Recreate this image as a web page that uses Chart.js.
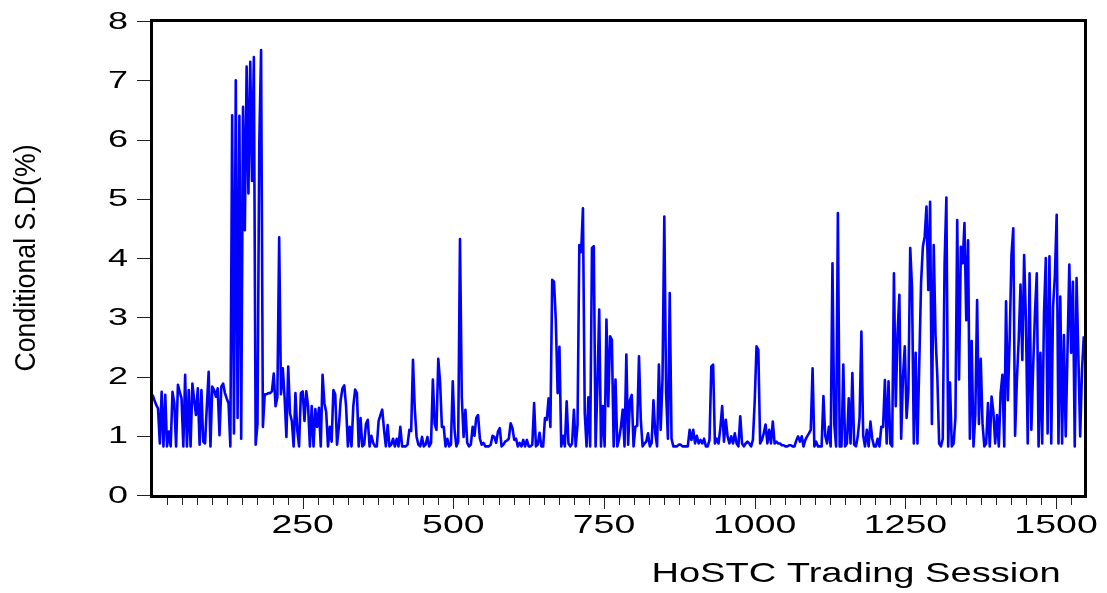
<!DOCTYPE html>
<html>
<head>
<meta charset="utf-8">
<script src="https://cdn.jsdelivr.net/npm/chart.js@4"></script>
<style>
html, body { margin: 0; padding: 0; background: #fff; }
</style>
</head>
<body>
<canvas id="sdChart" width="1107" height="593"></canvas>
<script>
// conditional SD (%), one reading every 3 sessions
var sdValues = [
	1.69, 1.6, 1.52, 1.46, 0.87, 1.74, 0.82, 1.69, 0.82, 1.07,
	0.82, 1.74, 1.55, 0.82, 1.86, 1.74, 1.63, 0.82, 2.03, 0.82,
	1.77, 0.82, 1.88, 1.6, 1.35, 1.8, 0.85, 1.77, 0.9, 0.87,
	1.5, 2.08, 0.82, 1.83, 1.77, 1.66, 1.8, 1.01, 1.83, 1.88,
	1.72, 1.63, 1.55, 0.82, 6.41, 1.04, 7.0, 1.3, 6.4, 0.95,
	6.55, 4.47, 7.23, 5.09, 7.31, 5.3, 7.39, 0.85, 1.2, 5.93,
	7.51, 1.15, 1.7, 1.7, 1.72, 1.72, 1.75, 2.05, 1.5, 1.65,
	4.35, 1.7, 2.14, 1.65, 0.98, 2.17, 1.38, 1.25, 0.82, 1.72,
	1.1, 0.82, 1.72, 1.75, 1.25, 1.75, 1.5, 0.82, 1.5, 0.82,
	1.45, 1.15, 1.47, 0.82, 2.03, 1.55, 1.4, 0.82, 1.15, 0.9,
	1.77, 1.7, 0.85, 1.15, 1.6, 1.8, 1.85, 1.5, 0.82, 1.15,
	0.82, 1.5, 1.78, 1.72, 0.82, 1.3, 0.82, 0.85, 1.2, 1.27,
	0.82, 1.0, 0.88, 0.82, 0.82, 1.25, 1.35, 1.44, 1.1, 0.82,
	1.18, 0.82, 0.85, 0.95, 0.82, 0.95, 0.82, 1.15, 0.82, 0.82,
	0.82, 0.85, 1.1, 1.08, 2.28, 1.45, 0.98, 0.85, 0.82, 0.98,
	0.82, 0.85, 0.98, 0.82, 0.88, 1.95, 1.2, 1.1, 2.3, 1.9,
	1.15, 1.15, 0.82, 0.95, 0.82, 0.85, 1.92, 1.1, 0.82, 0.9,
	4.32, 1.65, 0.98, 1.44, 0.88, 0.82, 0.85, 1.15, 1.0, 1.3,
	1.35, 0.95, 0.85, 0.88, 0.82, 0.82, 0.82, 0.85, 1.0, 0.98,
	0.88, 1.07, 1.13, 0.82, 0.85, 0.9, 0.92, 0.95, 1.21, 1.13,
	0.93, 0.95, 0.82, 0.88, 0.82, 0.93, 0.82, 0.93, 0.82, 0.82,
	0.85, 1.55, 0.82, 0.85, 1.05, 0.82, 0.82, 1.3, 1.27, 1.63,
	1.15, 3.63, 3.6, 2.95, 1.72, 2.5, 0.82, 1.0, 0.82, 1.58,
	0.87, 0.82, 0.87, 1.44, 0.82, 1.18, 4.22, 4.1, 4.84, 1.38,
	0.82, 1.65, 0.82, 4.17, 4.2, 0.82, 1.83, 3.13, 0.82, 1.5,
	0.82, 2.96, 1.5, 2.68, 2.62, 0.82, 1.95, 0.82, 0.95, 1.15,
	1.44, 0.82, 2.37, 0.85, 1.6, 1.69, 0.82, 1.15, 1.17, 2.34,
	1.27, 0.82, 0.87, 0.9, 1.04, 0.82, 0.88, 1.6, 1.04, 0.82,
	2.2, 1.1, 1.95, 4.7, 1.72, 0.95, 3.41, 0.95, 0.82, 0.82,
	0.82, 0.85, 0.85, 0.82, 0.82, 0.82, 0.82, 1.1, 0.93, 1.1,
	0.87, 1.0, 0.87, 0.93, 0.87, 0.95, 0.82, 0.82, 0.93, 2.17,
	2.2, 0.87, 0.95, 0.87, 1.13, 1.5, 0.9, 1.27, 0.99, 0.87,
	0.99, 0.87, 1.04, 0.87, 0.82, 1.33, 0.87, 0.82, 0.87, 0.9,
	0.87, 0.82, 0.93, 1.58, 2.51, 2.45, 0.87, 0.93, 1.04, 1.19,
	0.87, 1.1, 0.87, 1.24, 0.87, 0.9, 0.87, 0.87, 0.84, 0.84,
	0.82, 0.82, 0.84, 0.84, 0.82, 0.82, 0.92, 0.99, 0.9, 0.99,
	0.82, 0.93, 0.99, 1.04, 1.1, 2.14, 0.82, 0.9, 0.82, 0.82,
	0.82, 1.67, 1.0, 0.87, 1.15, 0.82, 3.91, 1.2, 0.82, 4.76,
	0.82, 0.82, 2.2, 0.82, 0.87, 1.63, 0.87, 2.06, 0.85, 0.82,
	0.99, 1.3, 2.76, 1.0, 0.82, 1.1, 0.82, 1.24, 0.95, 0.82,
	0.82, 0.95, 0.82, 1.15, 1.15, 1.94, 0.87, 1.92, 0.87, 0.82,
	3.74, 1.5, 2.73, 3.38, 0.95, 2.0, 2.51, 1.3, 1.77, 4.17,
	3.5, 0.87, 2.4, 0.87, 2.2, 3.58, 4.19, 4.36, 4.87, 3.46,
	4.95, 1.2, 4.22, 2.7, 2.0, 0.87, 0.82, 0.95, 3.9, 5.02,
	0.82, 1.9, 0.82, 0.87, 1.3, 4.64, 1.95, 4.19, 3.91, 4.59,
	2.95, 4.3, 0.95, 2.6, 0.82, 1.35, 3.29, 1.2, 2.3, 1.2,
	0.82, 0.87, 1.55, 0.82, 1.66, 1.4, 0.87, 1.35, 0.82, 1.72,
	2.03, 0.82, 3.27, 1.6, 2.62, 4.05, 4.5, 1.0, 1.94, 2.62,
	3.55, 2.28, 4.05, 2.95, 0.87, 3.74, 1.1, 2.17, 3.07, 3.74,
	0.82, 2.4, 0.87, 3.07, 4.0, 1.04, 4.03, 0.87, 3.18, 3.69,
	4.73, 0.87, 3.35, 0.87, 2.7, 0.99, 2.45, 3.89, 2.4, 3.6,
	0.82, 3.66, 2.34, 0.99, 2.1, 2.68
];
var firstSession = 1;
var sessionStep = 3;
var lastSession = 1548;

var xTicks = [250, 500, 750, 1000, 1250, 1500];
var xMinorStep = 25;
var yTicks = [0, 1, 2, 3, 4, 5, 6, 7, 8];
var xTitle = "HoSTC Trading Session";
var yTitle = "Conditional S.D(%)";

var sessions = sdValues.map(function(v, i) { return firstSession + i * sessionStep; });

function $each(arr, fn) { for (var i = 0; i < arr.length; i++) fn(arr[i], i); }

//글자 가로로 늘려서 그리기
function wideText(ctx, text, x, y, sx, align) {
	ctx.save();
	ctx.translate(x, y);
	ctx.scale(sx, 1);
	ctx.textAlign = align;
	ctx.fillText(text, 0, 0);
	ctx.restore();
}

// EViews style frame, ticks and labels
var evAxes = {
	id: "evAxes",
	afterDraw: function(chart) {
		var ctx = chart.ctx;
		var a = chart.chartArea;
		var xs = chart.scales.x, ys = chart.scales.y;
		ctx.save();

		// ticks
		ctx.strokeStyle = "#222";
		ctx.lineWidth = 1;
		ctx.beginPath();
		for (var s = xMinorStep; s < lastSession; s += xMinorStep) {
			var px = Math.round(xs.getPixelForValue(s)) + 0.5;
			var len = (s % 250 === 0) ? 12 : 8;
			ctx.moveTo(px, a.bottom + 1);
			ctx.lineTo(px, a.bottom + 2 + len);
		}
		$each(yTicks, function(v) {
			var py = Math.round(ys.getPixelForValue(v)) + 0.5;
			ctx.moveTo(a.left - 15, py);
			ctx.lineTo(a.left, py);
		});
		ctx.stroke();

		// frame
		ctx.strokeStyle = "#000";
		ctx.lineWidth = 3;
		ctx.strokeRect(a.left - 0.5, a.top - 0.5, a.right - a.left + 1, a.bottom - a.top + 2);

		// labels
		ctx.fillStyle = "#000";
		ctx.textBaseline = "middle";
		ctx.font = "24px 'Liberation Sans', Arial, sans-serif";
		$each(yTicks, function(v) {
			wideText(ctx, String(v), a.left - 24, ys.getPixelForValue(v) + 1, 1.5, "right");
		});
		ctx.textBaseline = "alphabetic";
		ctx.font = "25px 'Liberation Sans', Arial, sans-serif";
		$each(xTicks, function(v) {
			wideText(ctx, String(v), xs.getPixelForValue(v), 533, 1.5, "center");
		});

		ctx.font = "28px 'Liberation Sans', Arial, sans-serif";
		wideText(ctx, xTitle, 856, 582, 1.36, "center");

		ctx.save();
		ctx.translate(35, 258);
		ctx.rotate(-Math.PI / 2);
		ctx.font = "30px 'Liberation Sans', Arial, sans-serif";
		wideText(ctx, yTitle, 0, 0, 0.89, "center");
		ctx.restore();

		ctx.restore();
	}
};

var ctx = document.getElementById("sdChart").getContext("2d");
var sdChart = new Chart(ctx, {
	type: "line",
	data: {
		labels: sessions,
		datasets: [{
			data: sdValues,
			borderColor: "#0000ff",
			borderWidth: 2.6,
			borderJoinStyle: "round",
			pointRadius: 0,
			tension: 0,
			fill: false
		}]
	},
	options: {
		responsive: false,
		animation: false,
		devicePixelRatio: 1,
		layout: { padding: { left: 152, right: 22, top: 21, bottom: 98 } },
		plugins: { legend: { display: false }, tooltip: { enabled: false } },
		scales: {
			x: { type: "linear", display: false, min: 0, max: lastSession },
			y: { display: false, min: 0, max: 8 }
		}
	},
	plugins: [evAxes]
});
</script>
</body>
</html>
